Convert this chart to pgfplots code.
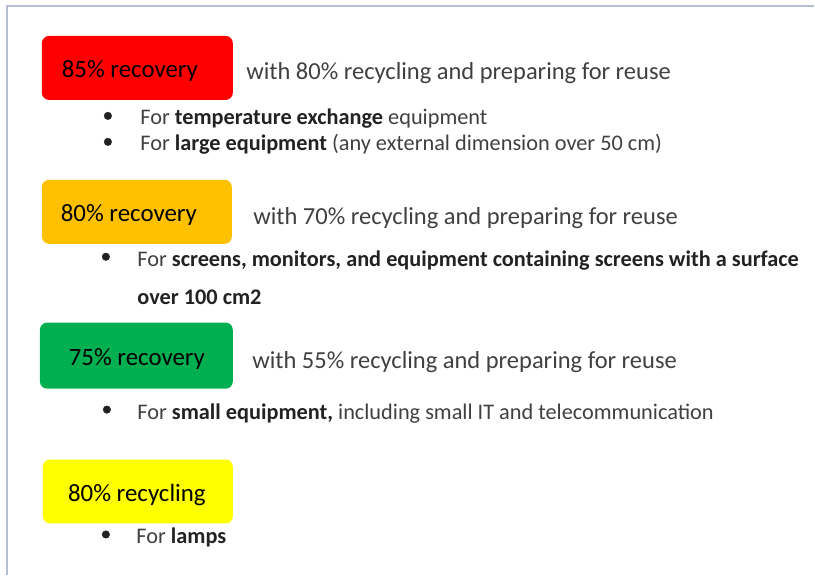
\documentclass[border=0pt]{standalone}
\usepackage{pgfplots}
\pgfplotsset{compat=1.18}
\usepackage{fontspec}
\setmainfont{Carlito}
\definecolor{boxred}{HTML}{FF0000}
\definecolor{boxorange}{HTML}{FFC000}
\definecolor{boxgreen}{HTML}{00B050}
\definecolor{boxyellow}{HTML}{FFFF00}
\definecolor{framec}{HTML}{B4BFD3}
\definecolor{bodytxt}{HTML}{404040}
\definecolor{boldtxt}{HTML}{222222}
\newcommand{\boxfont}{\fontsize{25}{30}\selectfont}
\newcommand{\withfont}{\fontsize{24.6}{29}\selectfont}
\newcommand{\itemfont}{\fontsize{22.4}{26}\selectfont}
\begin{document}
\begin{tikzpicture}
\begin{axis}[
  width=815bp, height=576bp, scale only axis,
  xmin=0, xmax=815, ymin=0, ymax=576, y dir=reverse,
  axis lines=none, clip=false,
  every node/.append style={inner sep=0pt, outer sep=0pt}
]
% full canvas (keeps the white margin)
\path (rel axis cs:0,0) rectangle (rel axis cs:1,1);
% frame
\addplot[draw=framec, line width=1.6pt] coordinates {(7,576) (7,6) (815,6)};
% boxes
\addplot[draw=none, fill=boxred, rounded corners=7pt] coordinates {(42,36) (233,36) (233,100) (42,100)} -- cycle;
\addplot[draw=none, fill=boxorange, rounded corners=7pt] coordinates {(42,180) (232,180) (232,244) (42,244)} -- cycle;
\addplot[draw=none, fill=boxgreen, rounded corners=7pt] coordinates {(40,323) (233,323) (233,389) (40,389)} -- cycle;
\addplot[draw=none, fill=boxyellow, rounded corners=7pt] coordinates {(43,460) (233,460) (233,524) (43,524)} -- cycle;
% bullets
\addplot[only marks, mark=*, mark size=3.8pt, color=boldtxt] coordinates {(108,116) (108,142) (106,257) (107,410) (106,535)};
% box labels
\node[anchor=base, text=black] at (axis cs:130,77.5) {\boxfont 85\% recovery};
\node[anchor=base, text=black] at (axis cs:129,221.5) {\boxfont 80\% recovery};
\node[anchor=base, text=black] at (axis cs:137,365.5) {\boxfont 75\% recovery};
\node[anchor=base, text=black] at (axis cs:137,501.5) {\boxfont 80\% recycling};
% with lines
\node[anchor=base west, text=bodytxt] at (axis cs:243,79.5) {\withfont with 80\% recycling and preparing for reuse};
\node[anchor=base west, text=bodytxt] at (axis cs:250,224.5) {\withfont with 70\% recycling and preparing for reuse};
\node[anchor=base west, text=bodytxt] at (axis cs:249,368.5) {\withfont with 55\% recycling and preparing for reuse};
% items
\node[anchor=base west, text=bodytxt] at (axis cs:137,124.5) {\itemfont For \textcolor{boldtxt}{\textbf{temperature exchange}} equipment};
\node[anchor=base west, text=bodytxt] at (axis cs:137,150.5) {\itemfont For \textcolor{boldtxt}{\textbf{large equipment}} (any external dimension over 50 cm)};
\node[anchor=base west, text=bodytxt] at (axis cs:134,266.5) {\itemfont For \textcolor{boldtxt}{\textbf{screens, monitors, and equipment containing screens with a surface}}};
\node[anchor=base west, text=bodytxt] at (axis cs:134,304.5) {\itemfont \textcolor{boldtxt}{\textbf{over 100 cm2}}};
\node[anchor=base west, text=bodytxt] at (axis cs:134,419.5) {\itemfont For \textcolor{boldtxt}{\textbf{small equipment,}} including small IT and telecommunication};
\node[anchor=base west, text=bodytxt] at (axis cs:133,544.5) {\itemfont For \textcolor{boldtxt}{\textbf{lamps}}};
\end{axis}
\end{tikzpicture}
\end{document}
